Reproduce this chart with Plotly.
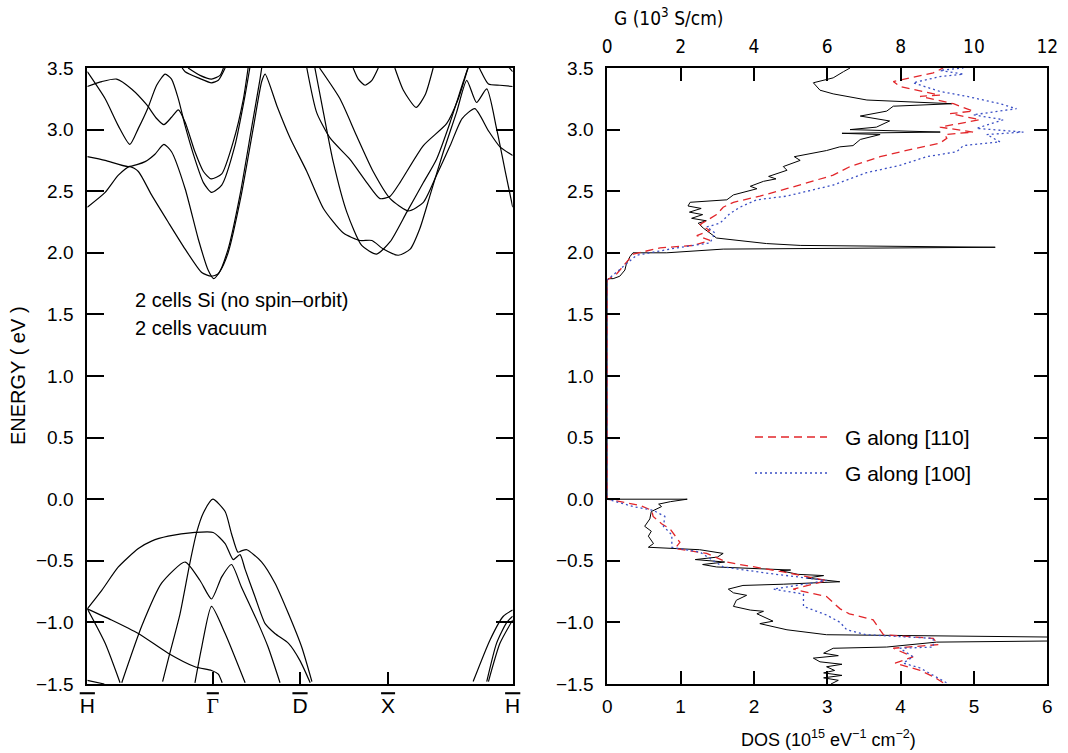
import plotly.graph_objects as go

# ---------------- band structure (k along path 0..1, energy in eV) ----------------
K_TICKS = [0.0, 0.295, 0.5, 0.707, 1.0]
K_LABELS = ["H", "Γ", "D", "X", "H"]

C1_K = [0.0, 0.042, 0.073, 0.100, 0.120, 0.143, 0.163, 0.183, 0.198, 0.214, 0.230, 0.253, 0.273, 0.292, 0.316, 0.347, 0.371, 0.382]
C1_E = [3.47, 3.25, 3.03, 2.88, 3.01, 3.18, 3.36, 3.45, 3.41, 3.25, 3.03, 2.76, 2.57, 2.49, 2.55, 2.87, 3.28, 3.50]

C2_K = [0.0, 0.034, 0.069, 0.104, 0.140, 0.163, 0.180, 0.198, 0.214, 0.230, 0.253, 0.273, 0.291, 0.316, 0.343, 0.367, 0.378]
C2_E = [3.35, 3.39, 3.41, 3.33, 3.20, 3.09, 3.04, 3.10, 3.16, 3.06, 2.82, 2.66, 2.60, 2.64, 2.90, 3.25, 3.50]

C3_K = [0.0, 0.042, 0.096, 0.136, 0.159, 0.180, 0.198, 0.230, 0.261, 0.284, 0.297, 0.312, 0.331, 0.362, 0.390, 0.410, 0.418,
        0.446, 0.477, 0.516, 0.555, 0.602, 0.641, 0.669, 0.696, 0.731, 0.759, 0.782, 0.806, 0.837, 0.868, 0.892, 0.915,
        0.939, 0.962, 0.982, 1.0]
C3_E = [2.78, 2.75, 2.70, 2.74, 2.80, 2.88, 2.82, 2.52, 2.11, 1.86, 1.79, 1.85, 2.00, 2.47, 3.01, 3.39, 3.45,
        3.19, 2.93, 2.66, 2.36, 2.16, 2.10, 2.10, 2.03, 1.98, 2.03, 2.20, 2.47, 2.82, 3.14, 3.40, 3.22,
        3.33, 3.01, 2.67, 2.37]

C4_K = [0.0, 0.042, 0.073, 0.100, 0.120, 0.151, 0.190, 0.230, 0.269, 0.291, 0.308, 0.331, 0.359, 0.386, 0.406, 0.410]
C4_E = [2.37, 2.49, 2.63, 2.70, 2.66, 2.47, 2.25, 2.03, 1.84, 1.81, 1.83, 2.03, 2.47, 3.01, 3.41, 3.50]

L1_K = [0.223, 0.230, 0.261, 0.292, 0.308, 0.324]
L1_E = [3.50, 3.47, 3.42, 3.38, 3.40, 3.50]
L2_K = [0.237, 0.265, 0.292, 0.312, 0.320]
L2_E = [3.50, 3.44, 3.41, 3.44, 3.50]
LA_K = [0.625, 0.637, 0.653, 0.669, 0.684]
LA_E = [3.50, 3.41, 3.36, 3.40, 3.50]
LB_K = [0.723, 0.743, 0.773, 0.794, 0.813]
LB_E = [3.50, 3.32, 3.18, 3.28, 3.50]

D_K = [0.516, 0.539, 0.571, 0.617, 0.657, 0.688, 0.712, 0.735, 0.790, 0.845, 0.871, 0.895]
D_E = [3.50, 3.14, 2.93, 2.76, 2.57, 2.44, 2.46, 2.57, 2.87, 3.05, 3.24, 3.50]

E_K = [0.535, 0.555, 0.578, 0.610, 0.645, 0.680, 0.712, 0.751, 0.790, 0.821, 0.853, 0.884, 0.895, 0.909, 0.923, 0.943, 0.970, 1.0]
E_E = [3.50, 3.14, 2.74, 2.33, 2.06, 1.99, 2.09, 2.33, 2.57, 2.76, 3.06, 3.39, 3.50, 3.58, 3.49, 3.37, 3.36, 3.35]

F_K = [0.546, 0.594, 0.633, 0.672, 0.712, 0.755, 0.790, 0.821, 0.853, 0.881, 0.911, 0.943, 0.970, 1.0]
F_E = [3.50, 3.25, 2.95, 2.66, 2.44, 2.34, 2.41, 2.63, 2.87, 3.09, 3.17, 2.99, 2.86, 2.79]

HC_K = [0.985, 1.0]
HC_E = [3.53, 3.47]

VT_K = [0.177, 0.194, 0.218, 0.241, 0.257, 0.273, 0.295, 0.324, 0.339, 0.354, 0.362, 0.375, 0.410, 0.441, 0.473, 0.504, 0.528]
VT_E = [-1.48, -1.25, -0.93, -0.52, -0.27, -0.11, 0.0, -0.10, -0.28, -0.43, -0.42, -0.41, -0.51, -0.68, -0.93, -1.20, -1.48]

VP_K = [0.0, 0.034, 0.073, 0.120, 0.151, 0.190, 0.253, 0.296, 0.324, 0.343, 0.359, 0.371, 0.394, 0.418, 0.441, 0.473, 0.500, 0.524]
VP_E = [-0.89, -0.74, -0.55, -0.40, -0.34, -0.30, -0.27, -0.27, -0.36, -0.49, -0.45, -0.57, -0.79, -1.01, -1.09, -1.17, -1.31, -1.49]

VM_K = [0.081, 0.128, 0.175, 0.230, 0.265, 0.292, 0.316, 0.339, 0.362, 0.402, 0.425, 0.453]
VM_E = [-1.49, -1.03, -0.68, -0.51, -0.66, -0.81, -0.63, -0.53, -0.71, -1.01, -1.20, -1.49]

VL_K = [0.253, 0.269, 0.292, 0.324, 0.371]
VL_E = [-1.49, -1.20, -0.87, -1.09, -1.49]

VD_K = [0.0, 0.042, 0.077]
VD_E = [-0.89, -1.17, -1.49]

VF_K = [0.0, 0.057, 0.120, 0.190, 0.253, 0.292, 0.308, 0.317]
VF_E = [-0.89, -0.98, -1.09, -1.25, -1.36, -1.39, -1.42, -1.49]

VC_K = [0.0, 0.04]
VC_E = [-1.47, -1.50]

R1_K = [0.907, 0.947, 0.978, 1.0]
R1_E = [-1.48, -1.14, -0.95, -0.90]
R2_K = [0.939, 0.962, 0.986, 1.0]
R2_E = [-1.48, -1.17, -1.00, -0.95]
R3_K = [0.943, 0.970, 1.0]
R3_E = [-1.48, -1.17, -0.98]

BANDS = [(C1_K, C1_E), (C2_K, C2_E), (C3_K, C3_E), (C4_K, C4_E), (L1_K, L1_E), (L2_K, L2_E),
         (LA_K, LA_E), (LB_K, LB_E), (D_K, D_E), (E_K, E_E), (F_K, F_E), (HC_K, HC_E),
         (VT_K, VT_E), (VP_K, VP_E), (VM_K, VM_E), (VL_K, VL_E), (VD_K, VD_E), (VF_K, VF_E),
         (VC_K, VC_E), (R1_K, R1_E), (R2_K, R2_E), (R3_K, R3_E)]

# ---------------- DOS (10^15 eV^-1 cm^-2) vs energy ----------------
DOS_VAL = [3.05, 3.15, 2.95, 3.2, 2.95, 3.1, 2.99, 3.2, 2.9, 2.81, 3.15, 2.95, 3.08, 3.81, 4.49, 6.2, 6.2, 2.99,
           2.45, 2.08, 2.26, 2.04, 2.13, 1.95, 1.72, 1.76, 1.90, 1.72, 1.65, 1.85, 2.40, 3.17, 2.72, 2.95, 2.6,
           2.36, 2.5, 2.04, 1.49, 1.3, 1.6, 1.2, 1.5, 1.58, 1.26, 0.56, 0.63, 0.56, 0.60, 0.51, 0.58, 0.60,
           0.74, 0.70, 0.86, 1.09, 0.0, 0.0,
           0.01, 0.08, 0.17, 0.24, 0.26, 0.31, 0.35, 0.81, 1.58, 5.29, 2.63, 2.17, 1.81, 1.49, 1.40, 1.31,
           1.24, 1.35, 1.15, 1.30, 1.12, 1.28, 1.10, 1.13, 1.63, 1.72, 2.04, 1.95, 2.13, 2.30, 2.20, 2.45,
           2.40, 2.63, 2.55, 2.99, 3.17, 3.35, 3.45, 3.72, 3.20, 4.54, 3.31, 3.67, 3.85, 3.45, 3.81, 3.90,
           4.70, 3.54, 3.08, 2.90, 2.81, 3.08, 3.22, 3.31]
DOS_E = [-1.50, -1.47, -1.45, -1.43, -1.41, -1.39, -1.36, -1.34, -1.32, -1.29, -1.27, -1.25, -1.21, -1.20, -1.16,
         -1.15, -1.12, -1.10, -1.06, -1.01, -0.99, -0.93, -0.91, -0.90, -0.87, -0.82, -0.78, -0.76, -0.73, -0.70,
         -0.69, -0.67, -0.64, -0.62, -0.61, -0.58, -0.575, -0.565, -0.55, -0.53, -0.51, -0.49, -0.47, -0.44,
         -0.41, -0.39, -0.36, -0.30, -0.26, -0.22, -0.16, -0.10, -0.06, -0.04, -0.02, 0.0, 0.0, 1.78,
         1.79, 1.79, 1.81, 1.86, 1.91, 1.97, 2.00, 2.00, 2.03, 2.045, 2.06, 2.075, 2.10, 2.12, 2.16, 2.20,
         2.24, 2.26, 2.28, 2.31, 2.33, 2.36, 2.38, 2.41, 2.43, 2.47, 2.52, 2.54, 2.58, 2.60, 2.62, 2.67,
         2.70, 2.75, 2.78, 2.83, 2.86, 2.87, 2.92, 2.96, 2.97, 2.98, 3.00, 3.02, 3.07, 3.11, 3.15, 3.19,
         3.21, 3.24, 3.29, 3.32, 3.38, 3.42, 3.47, 3.50]

# ---------------- conductance G (10^3 S/cm) vs energy ----------------
G110_VAL = [9.16, 8.89, 8.53, 7.85, 8.34, 7.80, 9.03, 8.89, 7.53, 7.25, 6.60, 6.35, 5.98, 5.07, 5.98, 4.80,
            3.62, 3.26, 2.71, 1.85, 1.98, 1.85, 1.71, 1.48, 1.25, 1.21, 0.89, 0.0, 0.0,
            0.26, 0.48, 0.71, 1.44, 2.35, 2.80, 2.44, 2.80, 2.53, 2.98, 3.16, 3.44, 4.16, 4.89, 5.62, 6.16,
            6.62, 7.44, 8.44, 9.07, 9.26, 9.20, 9.98, 9.07, 10.16, 9.35, 9.98, 9.44, 8.53, 9.07, 7.98, 7.80,
            8.89, 9.16]
G110_E = [-1.49, -1.44, -1.39, -1.33, -1.28, -1.21, -1.18, -1.13, -1.10, -0.98, -0.93, -0.89, -0.79, -0.73,
          -0.66, -0.59, -0.53, -0.51, -0.44, -0.40, -0.35, -0.30, -0.24, -0.20, -0.14, -0.09, -0.05, 0.0, 1.78,
          1.83, 1.91, 1.99, 2.04, 2.06, 2.10, 2.14, 2.18, 2.23, 2.31, 2.37, 2.41, 2.46, 2.52, 2.58, 2.63,
          2.70, 2.78, 2.85, 2.89, 2.93, 2.96, 2.98, 3.02, 3.08, 3.13, 3.15, 3.21, 3.27, 3.28, 3.35, 3.39,
          3.46, 3.50]

G100_VAL = [9.25, 8.53, 8.07, 8.34, 7.98, 8.89, 8.89, 7.07, 6.53, 6.35, 5.98, 5.35, 5.35, 4.53, 5.98, 4.35,
            3.16, 2.53, 1.76, 1.76, 1.53, 1.57, 1.25, 0.71, 0.0, 0.0,
            0.44, 0.80, 1.89, 2.80, 2.94, 2.71, 3.07, 3.35, 3.62, 4.07, 4.89, 5.62, 6.16, 7.07, 7.98, 8.71,
            9.53, 9.71, 10.71, 10.35, 11.35, 10.07, 10.80, 9.98, 11.16, 10.71, 9.80, 9.07, 8.34, 9.07, 9.71,
            9.07, 9.71]
G100_E = [-1.49, -1.37, -1.33, -1.28, -1.21, -1.20, -1.13, -1.10, -1.06, -1.00, -0.94, -0.87, -0.77, -0.73,
          -0.66, -0.60, -0.55, -0.43, -0.39, -0.29, -0.22, -0.14, -0.09, -0.06, 0.0, 1.78,
          1.89, 1.98, 2.04, 2.08, 2.16, 2.21, 2.24, 2.32, 2.37, 2.43, 2.46, 2.51, 2.55, 2.65, 2.71, 2.78,
          2.82, 2.87, 2.90, 2.96, 2.98, 3.01, 3.08, 3.12, 3.17, 3.21, 3.27, 3.31, 3.38, 3.43, 3.45,
          3.48, 3.50]

E_TICKS = [-1.5, -1.0, -0.5, 0.0, 0.5, 1.0, 1.5, 2.0, 2.5, 3.0, 3.5]
DOS_TICKS = [0, 1, 2, 3, 4, 5, 6]
G_TICKS = [0, 2, 4, 6, 8, 10, 12]

RED = "#e2262a"
BLUE = "#3a4fc4"
FONT = "Liberation Sans, Arial, Helvetica, sans-serif"
NARROW = "Liberation Sans Narrow, DejaVu Sans Condensed, Liberation Sans, sans-serif"

fig = go.Figure()

for k, e in BANDS:
    fig.add_trace(go.Scatter(x=k, y=e, mode="lines", xaxis="x", yaxis="y",
                             line=dict(color="black", width=1.2, shape="spline", smoothing=0.6),
                             showlegend=False, hoverinfo="skip"))

fig.add_trace(go.Scatter(x=DOS_VAL, y=DOS_E, mode="lines", xaxis="x2", yaxis="y2",
                         line=dict(color="black", width=1.0), showlegend=False))
fig.add_trace(go.Scatter(x=G110_VAL, y=G110_E, mode="lines", xaxis="x3", yaxis="y2",
                         line=dict(color=RED, width=1.3, dash="8px,5px"), name="G along [110]",
                         showlegend=False))
fig.add_trace(go.Scatter(x=G100_VAL, y=G100_E, mode="lines", xaxis="x3", yaxis="y2",
                         line=dict(color=BLUE, width=1.3, dash="2px,3px"), name="G along [100]",
                         showlegend=False))

W, H = 1068, 753
def px(x):
    return x / W
def py(y):
    return 1 - y / H

YDOM = [py(684), py(68)]
tick_text = []
for lab in K_LABELS:
    if lab == "Γ":
        tick_text.append('<span style="font-family:Liberation Serif;text-decoration:overline">Γ</span>')
    else:
        tick_text.append('<span style="text-decoration:overline">%s</span>' % lab)

axis_common = dict(showline=True, linewidth=2, linecolor="black", showgrid=False, zeroline=False,
                   ticks="inside", tickcolor="black", tickwidth=1.8, automargin=False)

fig.update_layout(
    width=W, height=H, autosize=False,
    margin=dict(l=0, r=0, t=0, b=0, pad=0),
    paper_bgcolor="white", plot_bgcolor="white",
    font=dict(family=FONT, size=18, color="black"),
    showlegend=False,
    xaxis=dict(domain=[px(87.3), px(512.7)], range=[0, 1], anchor="y", mirror=True,
               tickvals=K_TICKS, ticktext=tick_text, ticklen=12, tickfont=dict(size=21),
               ticklabelstandoff=2, **axis_common),
    yaxis=dict(domain=YDOM, range=[-1.5, 3.5], anchor="x", mirror="ticks",
               tickvals=E_TICKS, tickformat=".1f", ticklen=17, tickfont=dict(size=19),
               ticklabelstandoff=8, **axis_common),
    xaxis2=dict(domain=[px(607.3), px(1047.3)], range=[0, 6], anchor="y2", mirror=True,
                tickvals=DOS_TICKS, ticklen=13, tickfont=dict(size=19), ticklabelstandoff=4,
                **axis_common),
    yaxis2=dict(domain=YDOM, range=[-1.5, 3.5], anchor="x2", mirror="ticks",
                tickvals=E_TICKS, tickformat=".1f", ticklen=13, tickfont=dict(size=19),
                ticklabelstandoff=8, **axis_common),
    xaxis3=dict(overlaying="x2", side="top", range=[0, 12], anchor="y2",
                tickvals=G_TICKS, ticklen=13, tickfont=dict(size=19, family=NARROW),
                ticklabelstandoff=5, **axis_common),
)

def note(text, x, y, size, xanchor="center", family=FONT, angle=0):
    return dict(text=text, x=px(x), y=py(y), xref="paper", yref="paper", xanchor=xanchor,
                yanchor="middle", textangle=angle, showarrow=False, font=dict(size=size, family=family))

annotations = [
    note("ENERGY ( eV )", 18, 376, 20, angle=-90),
    note("2 cells Si (no spin–orbit)", 133, 300, 20, xanchor="left"),
    note("2 cells vacuum", 133, 328, 20, xanchor="left"),
    note("G (10<sup>3</sup> S/cm)", 668, 17, 19, family=NARROW),
    note("DOS (10<sup>15</sup> eV<sup>−1</sup> cm<sup>−2</sup>)", 828, 738, 18),
    note("G along [110]", 843, 437, 21, xanchor="left"),
    note("G along [100]", 843, 473, 21, xanchor="left"),
]
fig.update_layout(annotations=annotations)

fig.add_shape(type="line", xref="paper", yref="paper", x0=px(755), x1=px(827), y0=py(437), y1=py(437),
              line=dict(color=RED, width=1.3, dash="8px,5px"))
fig.add_shape(type="line", xref="paper", yref="paper", x0=px(755), x1=px(829), y0=py(473), y1=py(473),
              line=dict(color=BLUE, width=1.3, dash="2px,3px"))

fig.write_html("out.html")
